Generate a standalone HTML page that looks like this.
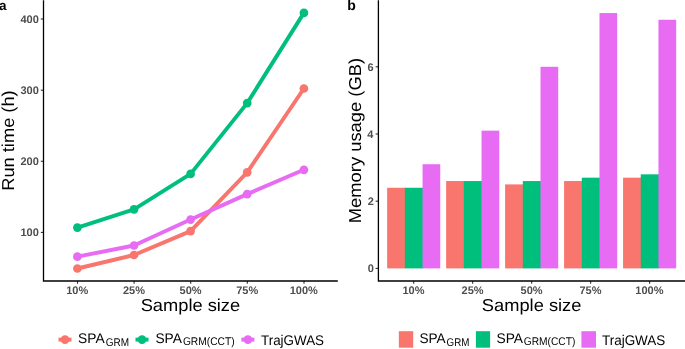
<!DOCTYPE html>
<html><head><meta charset="utf-8"><title>Run time and memory usage</title>
<style>html,body{margin:0;padding:0;background:#fff;width:685px;height:349px;overflow:hidden}svg{display:block;font-family:"Liberation Sans",sans-serif;text-rendering:geometricPrecision;will-change:transform}</style>
</head><body>
<svg width="685" height="349" viewBox="0 0 685 349">
<rect width="685" height="349" fill="#fff"/>
<polyline points="77.4,268.5 134.0,255.0 190.6,231.1 247.2,172.3 303.9,88.5" fill="none" stroke="#F8766D" stroke-width="3.9" stroke-linejoin="round"/><circle cx="77.4" cy="268.5" r="4.35" fill="#F8766D"/><circle cx="134.0" cy="255.0" r="4.35" fill="#F8766D"/><circle cx="190.6" cy="231.1" r="4.35" fill="#F8766D"/><circle cx="247.2" cy="172.3" r="4.35" fill="#F8766D"/><circle cx="303.9" cy="88.5" r="4.35" fill="#F8766D"/>
<polyline points="77.4,227.6 134.0,209.4 190.6,173.9 247.2,103.1 303.9,12.9" fill="none" stroke="#00BF7D" stroke-width="3.9" stroke-linejoin="round"/><circle cx="77.4" cy="227.6" r="4.35" fill="#00BF7D"/><circle cx="134.0" cy="209.4" r="4.35" fill="#00BF7D"/><circle cx="190.6" cy="173.9" r="4.35" fill="#00BF7D"/><circle cx="247.2" cy="103.1" r="4.35" fill="#00BF7D"/><circle cx="303.9" cy="12.9" r="4.35" fill="#00BF7D"/>
<polyline points="77.4,256.7 134.0,245.5 190.6,219.6 247.2,194.1 303.9,169.8" fill="none" stroke="#E76BF3" stroke-width="3.9" stroke-linejoin="round"/><circle cx="77.4" cy="256.7" r="4.35" fill="#E76BF3"/><circle cx="134.0" cy="245.5" r="4.35" fill="#E76BF3"/><circle cx="190.6" cy="219.6" r="4.35" fill="#E76BF3"/><circle cx="247.2" cy="194.1" r="4.35" fill="#E76BF3"/><circle cx="303.9" cy="169.8" r="4.35" fill="#E76BF3"/>
<rect x="387.15" y="187.76" width="18.40" height="80.64" fill="#F8766D"/>
<rect x="404.85" y="187.76" width="18.40" height="80.64" fill="#00BF7D"/>
<rect x="422.55" y="164.24" width="17.70" height="104.16" fill="#E76BF3"/>
<rect x="446.13" y="181.04" width="18.40" height="87.36" fill="#F8766D"/>
<rect x="463.83" y="181.04" width="18.40" height="87.36" fill="#00BF7D"/>
<rect x="481.53" y="130.64" width="17.70" height="137.76" fill="#E76BF3"/>
<rect x="505.11" y="184.40" width="18.40" height="84.00" fill="#F8766D"/>
<rect x="522.81" y="181.04" width="18.40" height="87.36" fill="#00BF7D"/>
<rect x="540.51" y="66.80" width="17.70" height="201.60" fill="#E76BF3"/>
<rect x="564.09" y="181.04" width="18.40" height="87.36" fill="#F8766D"/>
<rect x="581.79" y="177.68" width="18.40" height="90.72" fill="#00BF7D"/>
<rect x="599.49" y="13.04" width="17.70" height="255.36" fill="#E76BF3"/>
<rect x="623.07" y="177.68" width="18.40" height="90.72" fill="#F8766D"/>
<rect x="640.77" y="174.32" width="18.40" height="94.08" fill="#00BF7D"/>
<rect x="658.47" y="19.76" width="17.70" height="248.64" fill="#E76BF3"/>
<g stroke="#333" stroke-width="1.1">
<line x1="40.8" y1="19.0" x2="43.5" y2="19.0"/>
<line x1="40.8" y1="90.2" x2="43.5" y2="90.2"/>
<line x1="40.8" y1="161.3" x2="43.5" y2="161.3"/>
<line x1="40.8" y1="232.4" x2="43.5" y2="232.4"/>
<line x1="77.5" y1="281.0" x2="77.5" y2="283.8"/>
<line x1="134.1" y1="281.0" x2="134.1" y2="283.8"/>
<line x1="190.7" y1="281.0" x2="190.7" y2="283.8"/>
<line x1="247.29999999999998" y1="281.0" x2="247.29999999999998" y2="283.8"/>
<line x1="304.0" y1="281.0" x2="304.0" y2="283.8"/>
<line x1="375.6" y1="66.80" x2="378.4" y2="66.80"/>
<line x1="375.6" y1="134.00" x2="378.4" y2="134.00"/>
<line x1="375.6" y1="201.20" x2="378.4" y2="201.20"/>
<line x1="375.6" y1="268.40" x2="378.4" y2="268.40"/>
<line x1="413.70" y1="281.0" x2="413.70" y2="283.8"/>
<line x1="472.68" y1="281.0" x2="472.68" y2="283.8"/>
<line x1="531.66" y1="281.0" x2="531.66" y2="283.8"/>
<line x1="590.64" y1="281.0" x2="590.64" y2="283.8"/>
<line x1="649.62" y1="281.0" x2="649.62" y2="283.8"/>
</g>
<path d="M43.5,0.3 V281.0 H337.8" fill="none" stroke="#000" stroke-width="1.3"/>
<path d="M378.4,0.3 V281.0 H687" fill="none" stroke="#000" stroke-width="1.3"/>
<line x1="58.5" y1="339.6" x2="71.5" y2="339.6" stroke="#F8766D" stroke-width="3.9"/>
<circle cx="65" cy="339.6" r="4.35" fill="#F8766D"/>
<line x1="135.5" y1="339.6" x2="148.5" y2="339.6" stroke="#00BF7D" stroke-width="3.9"/>
<circle cx="142.0" cy="339.6" r="4.35" fill="#00BF7D"/>
<line x1="241.4" y1="339.6" x2="254.4" y2="339.6" stroke="#E76BF3" stroke-width="3.9"/>
<circle cx="247.9" cy="339.6" r="4.35" fill="#E76BF3"/>
<rect x="398.85" y="331.2" width="14.35" height="16.5" fill="#F8766D"/>
<rect x="475.9" y="331.2" width="14.20" height="16.5" fill="#00BF7D"/>
<rect x="581.4" y="331.2" width="14.60" height="16.5" fill="#E76BF3"/>
<g font-family="Liberation Sans">
<text x="20.50" y="22.95" textLength="18.36" lengthAdjust="spacingAndGlyphs" font-size="11.0" font-weight="bold" fill="#4D4D4D">400</text>
<text x="20.50" y="94.15" textLength="18.36" lengthAdjust="spacingAndGlyphs" font-size="11.0" font-weight="bold" fill="#4D4D4D">300</text>
<text x="20.50" y="165.25" textLength="18.36" lengthAdjust="spacingAndGlyphs" font-size="11.0" font-weight="bold" fill="#4D4D4D">200</text>
<text x="20.50" y="236.35" textLength="18.36" lengthAdjust="spacingAndGlyphs" font-size="11.0" font-weight="bold" fill="#4D4D4D">100</text>
<text x="367.40" y="70.75" textLength="6.12" lengthAdjust="spacingAndGlyphs" font-size="11.0" font-weight="bold" fill="#4D4D4D">6</text>
<text x="367.15" y="137.95" textLength="6.12" lengthAdjust="spacingAndGlyphs" font-size="11.0" font-weight="bold" fill="#4D4D4D">4</text>
<text x="367.65" y="205.15" textLength="6.12" lengthAdjust="spacingAndGlyphs" font-size="11.0" font-weight="bold" fill="#4D4D4D">2</text>
<text x="367.65" y="272.35" textLength="6.12" lengthAdjust="spacingAndGlyphs" font-size="11.0" font-weight="bold" fill="#4D4D4D">0</text>
<text x="66.25" y="293.70" textLength="22.03" lengthAdjust="spacingAndGlyphs" font-size="11.0" font-weight="bold" fill="#4D4D4D">10%</text>
<text x="122.97" y="293.70" textLength="22.03" lengthAdjust="spacingAndGlyphs" font-size="11.0" font-weight="bold" fill="#4D4D4D">25%</text>
<text x="179.57" y="293.70" textLength="22.03" lengthAdjust="spacingAndGlyphs" font-size="11.0" font-weight="bold" fill="#4D4D4D">50%</text>
<text x="236.17" y="293.70" textLength="22.03" lengthAdjust="spacingAndGlyphs" font-size="11.0" font-weight="bold" fill="#4D4D4D">75%</text>
<text x="289.75" y="293.70" textLength="28.14" lengthAdjust="spacingAndGlyphs" font-size="11.0" font-weight="bold" fill="#4D4D4D">100%</text>
<text x="402.45" y="293.70" textLength="22.03" lengthAdjust="spacingAndGlyphs" font-size="11.0" font-weight="bold" fill="#4D4D4D">10%</text>
<text x="461.56" y="293.70" textLength="22.03" lengthAdjust="spacingAndGlyphs" font-size="11.0" font-weight="bold" fill="#4D4D4D">25%</text>
<text x="520.53" y="293.70" textLength="22.03" lengthAdjust="spacingAndGlyphs" font-size="11.0" font-weight="bold" fill="#4D4D4D">50%</text>
<text x="579.51" y="293.70" textLength="22.03" lengthAdjust="spacingAndGlyphs" font-size="11.0" font-weight="bold" fill="#4D4D4D">75%</text>
<text x="635.37" y="293.70" textLength="28.14" lengthAdjust="spacingAndGlyphs" font-size="11.0" font-weight="bold" fill="#4D4D4D">100%</text>
<text x="140.66" y="311.00" textLength="99.52" lengthAdjust="spacingAndGlyphs" font-size="17.3" font-weight="normal" fill="#000">Sample size</text>
<text x="481.86" y="311.00" textLength="99.57" lengthAdjust="spacingAndGlyphs" font-size="17.3" font-weight="normal" fill="#000">Sample size</text>
<text transform="translate(13.6,0) rotate(-90)" x="-190.82" y="0" textLength="100.51" lengthAdjust="spacingAndGlyphs" font-size="17.3" font-weight="normal" fill="#000">Run time (h)</text>
<text transform="translate(361.0,0) rotate(-90)" x="-223.28" y="0" textLength="165.37" lengthAdjust="spacingAndGlyphs" font-size="17.3" font-weight="normal" fill="#000">Memory usage (GB)</text>
<text x="78.06" y="343.40" textLength="26.58" lengthAdjust="spacingAndGlyphs" font-size="14.0" font-weight="normal" fill="#000">SPA</text>
<text x="105.70" y="346.00" textLength="23.39" lengthAdjust="spacingAndGlyphs" font-size="11.2" font-weight="normal" fill="#000">GRM</text>
<text x="155.46" y="342.70" textLength="26.48" lengthAdjust="spacingAndGlyphs" font-size="14.0" font-weight="normal" fill="#000">SPA</text>
<text x="182.89" y="344.90" textLength="51.76" lengthAdjust="spacingAndGlyphs" font-size="11.2" font-weight="normal" fill="#000">GRM(CCT)</text>
<text x="261.01" y="344.60" textLength="63.02" lengthAdjust="spacingAndGlyphs" font-size="14.0" font-weight="normal" fill="#000">TrajGWAS</text>
<text x="419.46" y="343.40" textLength="26.27" lengthAdjust="spacingAndGlyphs" font-size="14.0" font-weight="normal" fill="#000">SPA</text>
<text x="446.61" y="346.00" textLength="22.87" lengthAdjust="spacingAndGlyphs" font-size="11.2" font-weight="normal" fill="#000">GRM</text>
<text x="496.46" y="342.70" textLength="26.58" lengthAdjust="spacingAndGlyphs" font-size="14.0" font-weight="normal" fill="#000">SPA</text>
<text x="523.69" y="344.90" textLength="51.66" lengthAdjust="spacingAndGlyphs" font-size="11.2" font-weight="normal" fill="#000">GRM(CCT)</text>
<text x="601.91" y="344.60" textLength="63.43" lengthAdjust="spacingAndGlyphs" font-size="14.0" font-weight="normal" fill="#000">TrajGWAS</text>
<text x="-1.1" y="9.55" font-size="13.5" font-weight="bold" fill="#000">a</text>
<text x="347.2" y="9.6" font-size="14" font-weight="bold" fill="#000">b</text>
</g></svg>
</body></html>
